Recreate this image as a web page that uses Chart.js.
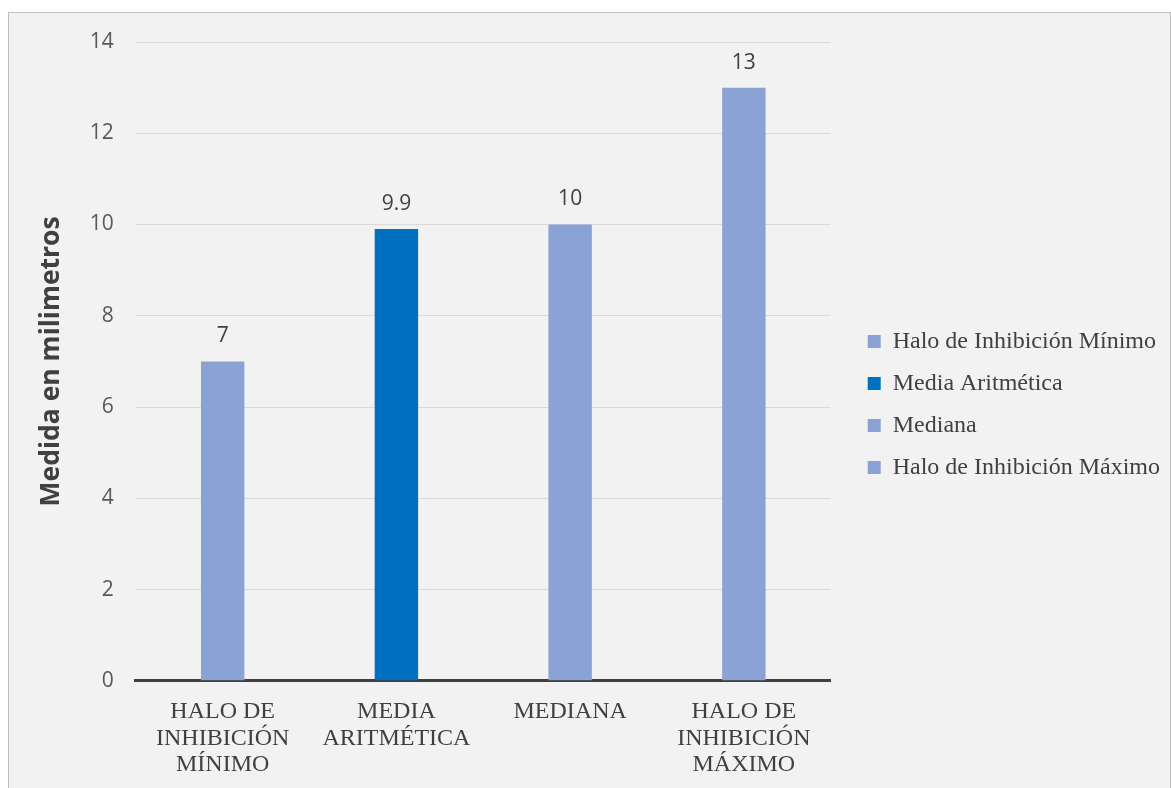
<!DOCTYPE html>
<html>
<head>
<meta charset="utf-8">
<script src="https://cdn.jsdelivr.net/npm/chart.js@4.4.1/dist/chart.umd.min.js"></script>
<style>
  body { margin: 0; background: #ffffff; }
  #box {
    position: absolute; left: 8px; top: 12px;
    width: 1161px; height: 780px;
    border: 1px solid #bfbfbf; background: #f2f2f2;
  }
  #chart { display: block; }
</style>
</head>
<body>
<div id="box"><canvas id="chart" width="1161" height="780"></canvas></div>
<script>
// categorias del eje x (multilinea)
var categorias = [
  ["HALO DE", "INHIBICIÓN", "MÍNIMO"],
  ["MEDIA", "ARITMÉTICA"],
  ["MEDIANA"],
  ["HALO DE", "INHIBICIÓN", "MÁXIMO"]
];
var nombresLeyenda = ["Halo de Inhibición Mínimo", "Media Aritmética", "Mediana", "Halo de Inhibición Máximo"];
var valores = [7, 9.9, 10, 13];
var colores = ["#8aa2d4", "#0070c0", "#8aa2d4", "#8aa2d4"];
var ticksY = [0, 2, 4, 6, 8, 10, 12, 14];

// etiquetas de valor encima de cada barra
var etiquetasBarras = {
  id: "etiquetasBarras",
  afterDatasetsDraw: function(chart) {
    let ctx = chart.ctx;
    let meta = chart.getDatasetMeta(0);
    ctx.save();
    ctx.font = "21px 'Open Sans'";
    ctx.fillStyle = "#404040";
    ctx.textAlign = "center";
    ctx.textBaseline = "middle";
    meta.data.forEach(function(bar, i) {
      ctx.fillText(String(valores[i]), bar.x, bar.y - 25);
    });
    ctx.restore();
  }
};

// deja un hueco entre el area del grafico y la leyenda
var huecoLeyenda = 19;
var margenLeyenda = {
  id: "margenLeyenda",
  beforeLayout: function(chart) {
    let lg = chart.legend;
    if (lg && !lg._ajustado) {
      let fitOrig = lg.fit;
      lg.fit = function() {
        fitOrig.call(this);
        this.width += huecoLeyenda;
      };
      lg._ajustado = true;
    }
  },
  afterLayout: function(chart) {
    let lg = chart.legend;
    if (lg) lg.left += huecoLeyenda;
  }
};

let ctx = document.getElementById("chart").getContext("2d");
new Chart(ctx, {
  type: "bar",
  data: {
    labels: categorias,
    datasets: [{
      label: "Medida",
      data: valores,
      backgroundColor: colores,
      borderWidth: 0,
      barPercentage: 0.25,
      categoryPercentage: 1
    }]
  },
  options: {
    responsive: false,
    animation: false,
    layout: { padding: { left: 27, top: 8, right: 0, bottom: 5 } },
    plugins: {
      tooltip: { enabled: false },
      legend: {
        position: "right",
        maxWidth: 400,
        labels: {
          font: { family: "'Liberation Serif'", size: 24 },
          color: "#404040",
          boxWidth: 13,
          boxHeight: 13,
          padding: 18,
          generateLabels: function(chart) {
            return nombresLeyenda.map(function(n, i) {
              return { text: n, fillStyle: colores[i], strokeStyle: colores[i], lineWidth: 0, index: i, fontColor: "#404040" };
            });
          }
        }
      }
    },
    scales: {
      x: {
        grid: { display: false },
        border: { color: "#404040", width: 3 },
        ticks: {
          font: { family: "'Liberation Serif'", size: 24, lineHeight: 1.1 },
          color: "#404040",
          padding: 10,
          maxRotation: 0
        }
      },
      y: {
        min: 0,
        max: 14,
        afterBuildTicks: function(axis) {
          axis.ticks = ticksY.map(function(v) { return { value: v }; });
        },
        afterFit: function(axis) {
          axis.paddingTop = 29;
        },
        grid: { color: "#d9d9d9", lineWidth: 1, drawTicks: false },
        border: { display: false },
        ticks: {
          font: { family: "'Open Sans'", size: 21 },
          color: "#595959",
          padding: 22
        },
        title: {
          display: true,
          text: "Medida en milimetros",
          font: { family: "'Open Sans'", size: 26.5, weight: "bold" },
          color: "#404040",
          padding: 0
        }
      }
    }
  },
  plugins: [etiquetasBarras, margenLeyenda]
});
</script>
</body>
</html>
